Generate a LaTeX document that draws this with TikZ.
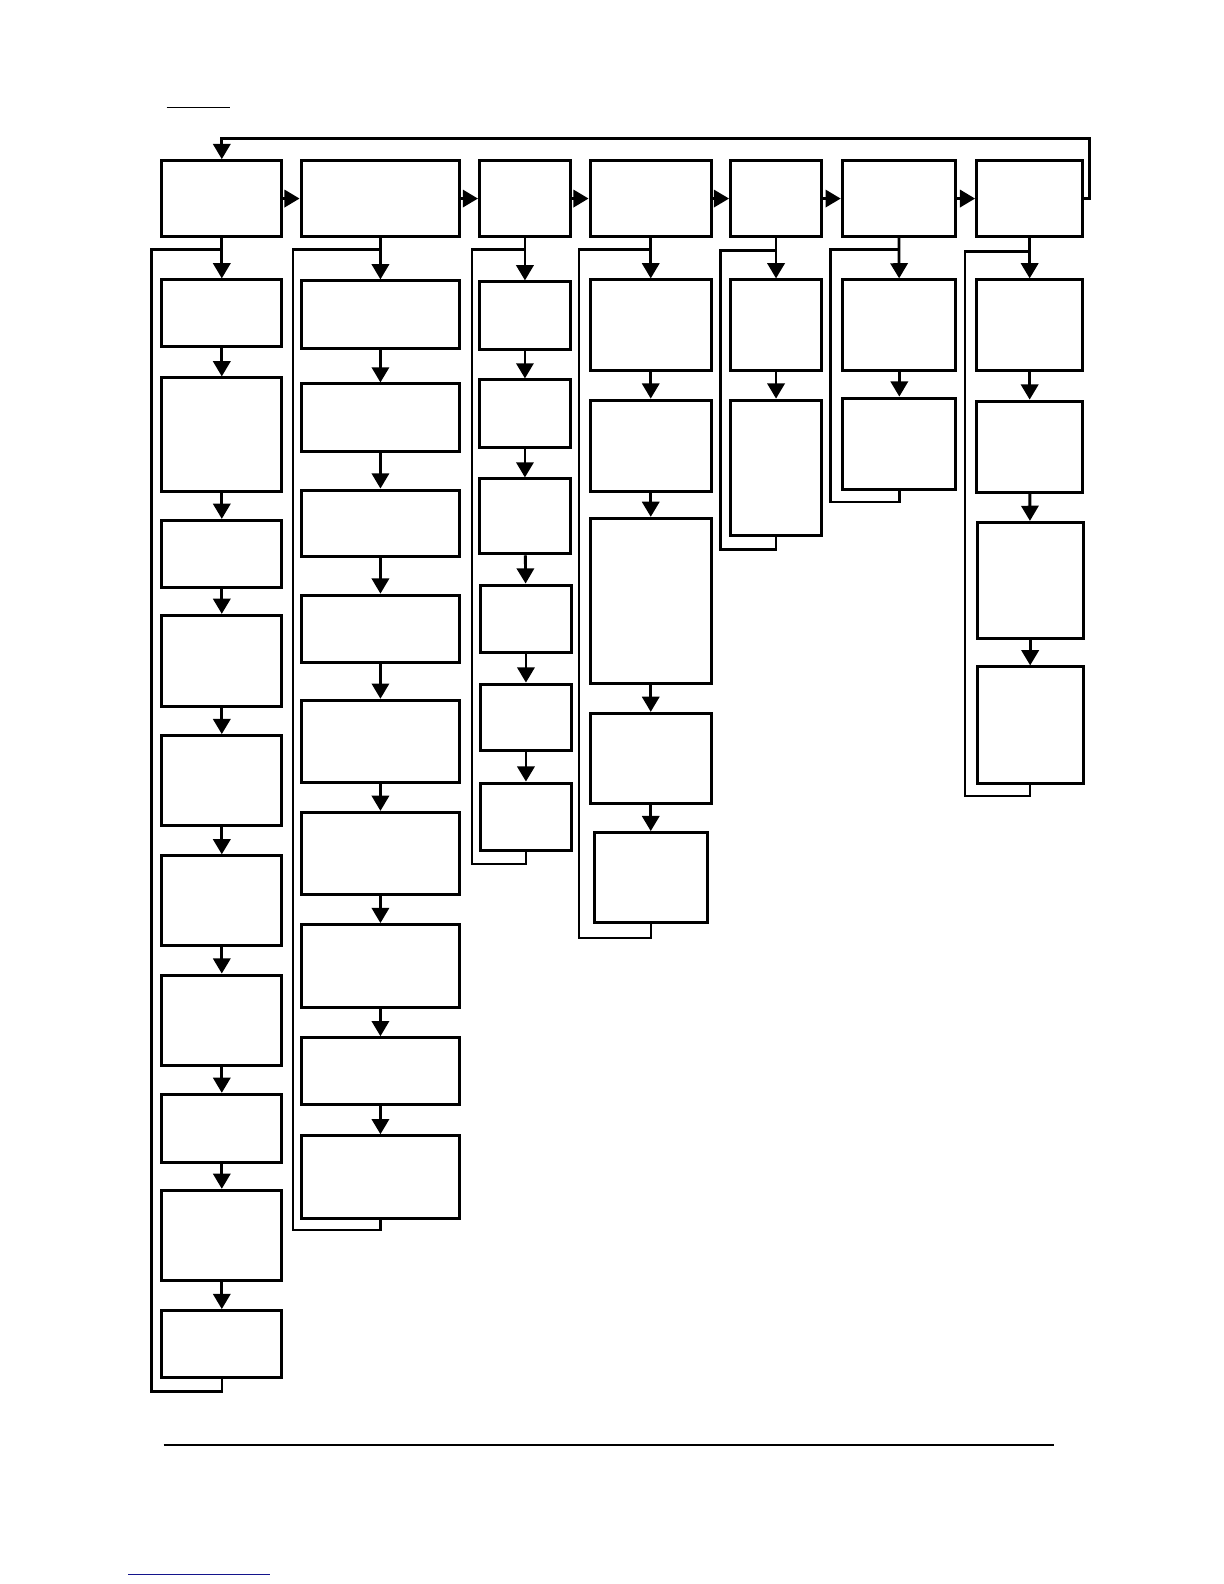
\documentclass[tikz,border=0pt]{standalone}
\usetikzlibrary{arrows.meta}
\tikzset{
    blk/.style={rectangle,draw,line width=3pt,inner sep=0pt},
    flw/.style={line width=2.8pt,-{Triangle[length=15pt,width=17pt]}},
    loopln/.style={line width=2.4pt}
}
\begin{document}
\begin{tikzpicture}[x=1pt,y=-1pt]
        \useasboundingbox (0,0) rectangle (1211.3,1567.6);

        \begin{scope}[every node/.style={blk}]
            % top row
            \node[minimum width=119,minimum height=75] (A0) at (219.5,196.5) {};
            \node[minimum width=157,minimum height=75] (B0) at (376.5,196.5) {};
            \node[minimum width=90,minimum height=75] (C0) at (519.5,196.5) {};
            \node[minimum width=120,minimum height=75] (D0) at (644,196.5) {};
            \node[minimum width=90,minimum height=75] (E0) at (768,196.5) {};
            \node[minimum width=112,minimum height=75] (F0) at (889.5,196.5) {};
            \node[minimum width=105,minimum height=75] (G0) at (1019,196.5) {};

            % column A
            \node[minimum width=119,minimum height=66] (A1) at (219.5,310) {};
            \node[minimum width=119,minimum height=112] (A2) at (219.5,430) {};
            \node[minimum width=119,minimum height=66] (A3) at (219.5,548) {};
            \node[minimum width=119,minimum height=90] (A4) at (219.5,654) {};
            \node[minimum width=119,minimum height=89] (A5) at (219.5,772.5) {};
            \node[minimum width=119,minimum height=89] (A6) at (219.5,891.5) {};
            \node[minimum width=119,minimum height=89] (A7) at (219.5,1009.5) {};
            \node[minimum width=119,minimum height=67] (A8) at (219.5,1116.5) {};
            \node[minimum width=119,minimum height=89] (A9) at (219.5,1222.5) {};
            \node[minimum width=119,minimum height=66] (A10) at (219.5,1330) {};

            % column B
            \node[minimum width=157,minimum height=67] (B1) at (376.5,311.5) {};
            \node[minimum width=157,minimum height=67] (B2) at (376.5,413.5) {};
            \node[minimum width=157,minimum height=66] (B3) at (376.5,518) {};
            \node[minimum width=157,minimum height=67] (B4) at (376.5,622.5) {};
            \node[minimum width=157,minimum height=81] (B5) at (376.5,733.5) {};
            \node[minimum width=157,minimum height=81] (B6) at (376.5,844.5) {};
            \node[minimum width=157,minimum height=82] (B7) at (376.5,956) {};
            \node[minimum width=157,minimum height=66] (B8) at (376.5,1060) {};
            \node[minimum width=157,minimum height=82] (B9) at (376.5,1165) {};

            % column C
            \node[minimum width=90,minimum height=67] (C1) at (519.5,312.5) {};
            \node[minimum width=90,minimum height=67] (C2) at (519.5,409.5) {};
            \node[minimum width=90,minimum height=74] (C3) at (519.5,511) {};
            \node[minimum width=90,minimum height=67] (C4) at (520.5,612.5) {};
            \node[minimum width=90,minimum height=66] (C5) at (520.5,710) {};
            \node[minimum width=90,minimum height=67] (C6) at (520.5,808.5) {};

            % column D
            \node[minimum width=120,minimum height=90] (D1) at (644,322) {};
            \node[minimum width=120,minimum height=90] (D2) at (644,441) {};
            \node[minimum width=120,minimum height=163] (D3) at (644,594.5) {};
            \node[minimum width=120,minimum height=89] (D4) at (644,750.5) {};
            \node[minimum width=112,minimum height=89] (D5) at (644,868.5) {};

            % column E
            \node[minimum width=90,minimum height=90] (E1) at (768,322) {};
            \node[minimum width=90,minimum height=134] (E2) at (768,463) {};

            % column F
            \node[minimum width=112,minimum height=90] (F1) at (890,322) {};
            \node[minimum width=112,minimum height=90] (F2) at (890,439) {};

            % column G
            \node[minimum width=105,minimum height=90] (G1) at (1019,322) {};
            \node[minimum width=105,minimum height=90] (G2) at (1019,442) {};
            \node[minimum width=105,minimum height=115] (G3) at (1019.5,574.5) {};
            \node[minimum width=105,minimum height=115] (G4) at (1019.5,717.5) {};
        \end{scope}

        % loop-back corners
        \coordinate (lA1) at (150,247);
        \coordinate (lA2) at (150,1377);
        \coordinate (lB1) at (290,247);
        \coordinate (lB2) at (290,1217);
        \coordinate (lC1) at (467,247);
        \coordinate (lC2) at (467,855);
        \coordinate (lD1) at (573,247);
        \coordinate (lD2) at (573,928);
        \coordinate (lE1) at (713,248);
        \coordinate (lE2) at (713,544);
        \coordinate (lF1) at (822,247);
        \coordinate (lF2) at (822,497);
        \coordinate (lG1) at (955,249);
        \coordinate (lG2) at (955,788);
        \coordinate (fb) at (1078,137);

        \draw[loopln] (A0.south) |- (lA1) -- (lA2) -| (A10.south);
        \draw[loopln] (B0.south) |- (lB1) -- (lB2) -| (B9.south);
        \draw[loopln] (C0.south) |- (lC1) -- (lC2) -| (C6.south);
        \draw[loopln] (D0.south) |- (lD1) -- (lD2) -| (D5.south);
        \draw[loopln] (E0.south) |- (lE1) -- (lE2) -| (E2.south);
        \draw[loopln] (F0.south) |- (lF1) -- (lF2) -| (F2.south);
        \draw[loopln] (G0.south) |- (lG1) -- (lG2) -| (G4.south);

        \path[flw] (A0) edge (B0) (B0) edge (C0) (C0) edge (D0);
        \path[flw] (D0) edge (E0) (E0) edge (F0) (F0) edge (G0);
        \draw[flw] (G0.east) -| (fb) -| (A0.north);

        \path[flw] (A0) edge (A1) (A1) edge (A2) (A2) edge (A3) (A3) edge (A4) (A4) edge (A5);
        \path[flw] (A5) edge (A6) (A6) edge (A7) (A7) edge (A8) (A8) edge (A9) (A9) edge (A10);
        \path[flw] (B0) edge (B1) (B1) edge (B2) (B2) edge (B3) (B3) edge (B4) (B4) edge (B5);
        \path[flw] (B5) edge (B6) (B6) edge (B7) (B7) edge (B8) (B8) edge (B9);
        \path[flw] (C0) edge (C1) (C1) edge (C2) (C2) edge (C3) (C3) edge (C4) (C4) edge (C5) (C5) edge (C6);
        \path[flw] (D0) edge (D1) (D1) edge (D2) (D2) edge (D3) (D3) edge (D4) (D4) edge (D5);
        \path[flw] (E0) edge (E1) (E1) edge (E2);
        \path[flw] (F0) edge (F1) (F1) edge (F2);
        \path[flw] (G0) edge (G1) (G1) edge (G2) (G2) edge (G3) (G3) edge (G4);

        % page rules
        \draw[line width=1pt] (165,106) -- (228,106);
        \draw[line width=1.2pt] (162,1430) -- (1043,1430);
        \draw[line width=1.3pt,color={rgb,255:red,20;green,20;blue,140}] (127,1558) -- (267,1558);
    \end{tikzpicture}
\end{document}
